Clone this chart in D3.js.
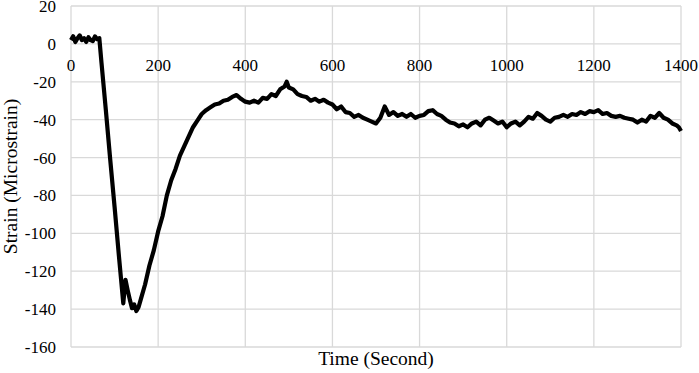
<!DOCTYPE html>
<html>
<head>
<meta charset="utf-8">
<script src="https://cdn.jsdelivr.net/npm/d3@7"></script>
<style>
  body { margin: 0; background: #fff; }
  text { font-family: "Liberation Serif", "Times New Roman", serif; fill: #000; }
</style>
</head>
<body>
<svg id="chart" width="699" height="373"></svg>
<script>
// strain record (time in s, strain in microstrain)
var timeSec = [0, 5, 10, 15, 20, 25, 30, 35, 40, 45, 50, 55, 60, 65,
  70, 80, 90, 100, 110, 120, 125, 130, 135, 140, 145, 150, 155, 160,
  170, 180, 190, 200, 210, 220, 230, 240, 250, 260, 270, 280, 290, 300,
  310, 320, 330, 340, 350, 360, 370, 380, 390, 400, 410, 420, 430, 440,
  450, 460, 470, 480, 490, 495, 500, 510, 520, 530, 540, 550, 560, 570,
  580, 590, 600, 610, 620, 630, 640, 650, 660, 670, 680, 690, 700, 710,
  720, 730, 740, 750, 760, 770, 780, 790, 800, 810, 820, 830, 840, 850,
  860, 870, 880, 890, 900, 910, 920, 930, 940, 950, 960, 970, 980, 990,
  1000, 1010, 1020, 1030, 1040, 1050, 1060, 1070, 1080, 1090, 1100, 1110,
  1120, 1130, 1140, 1150, 1160, 1170, 1180, 1190, 1200, 1210, 1220, 1230,
  1240, 1250, 1260, 1270, 1280, 1290, 1300, 1310, 1320, 1330, 1340, 1350,
  1360, 1370, 1380, 1390, 1395, 1400];
var strainMicro = [2, 4, 1, 3, 4.5, 2, 3, 1, 3.5, 2, 1.5, 4, 2.5, 3,
  -10, -35, -61, -86, -112, -137, -124.5, -130, -135, -139.5, -137.5, -141, -139, -135,
  -127, -117, -109, -99, -91, -80, -72, -66, -59, -54, -49, -44, -40.5, -37,
  -35, -33.5, -32, -31.5, -30, -29.5, -28, -27, -29, -30.5, -31, -30, -31, -28.5,
  -29, -26.5, -27.5, -24, -22.5, -20, -23, -24, -26.5, -27.5, -28, -30, -29, -30.5,
  -29.5, -31, -32, -34.5, -33, -36, -36.5, -38.5, -37.5, -39, -40, -41, -42, -39,
  -33, -37.5, -36, -38, -37, -38.5, -37, -39, -38, -37.5, -35.5, -35, -37, -38,
  -40, -41.5, -42, -43.5, -42.5, -44, -42, -41, -43, -40, -39, -40.5, -42, -41,
  -44, -42, -41, -43, -41, -38.5, -39.5, -36.5, -38, -40, -41, -39,
  -38.5, -37.5, -38.5, -37, -37.5, -36, -37, -35.5, -36, -35, -37, -36.5,
  -38, -38.5, -38, -39, -39.5, -40, -41.5, -40, -41, -38, -39, -36.5,
  -39, -40, -42, -43, -44, -46];

var xTicks = [0, 200, 400, 600, 800, 1000, 1200, 1400];
var yTicks = [-160, -140, -120, -100, -80, -60, -40, -20, 0, 20];

var svg = d3.select("#chart"),
  margin = { top: 6, right: 18, bottom: 26, left: 71 },
  width = +svg.attr("width") - margin.left - margin.right,
  height = +svg.attr("height") - margin.top - margin.bottom;

var x = d3.scaleLinear().domain([0, 1400]).range([margin.left, margin.left + width]);
var y = d3.scaleLinear().domain([-160, 20]).range([margin.top + height, margin.top]);

var data = timeSec.map((t, i) => ({ t: t, v: strainMicro[i] }));

// gridlines
svg.append("g")
  .selectAll("line.h")
  .data(yTicks)
  .join("line")
  .attr("x1", x(0)).attr("x2", x(1400))
  .attr("y1", d => y(d)).attr("y2", d => y(d))
  .style("stroke", "#d9d9d9").style("stroke-width", 1.3);

svg.append("g")
  .selectAll("line.v")
  .data(xTicks)
  .join("line")
  .attr("x1", d => x(d)).attr("x2", d => x(d))
  .attr("y1", y(20)).attr("y2", y(-160))
  .style("stroke", "#d9d9d9").style("stroke-width", 1.3);

// y tick labels
svg.append("g")
  .selectAll("text")
  .data(yTicks)
  .join("text")
  .attr("x", margin.left - 15)
  .attr("y", d => y(d) + 6)
  .attr("text-anchor", "end")
  .style("font-size", "17px")
  .text(d => d);

// x tick labels sit just under the zero line
svg.append("g")
  .selectAll("text")
  .data(xTicks)
  .join("text")
  .attr("x", d => x(d))
  .attr("y", y(0) + 27)
  .attr("text-anchor", "middle")
  .style("font-size", "17px")
  .text(d => d);

var line = d3.line()
  .x(d => x(d.t))
  .y(d => y(d.v));

svg.append("path")
  .datum(data)
  .attr("d", line)
  .style("fill", "none")
  .style("stroke", "#000")
  .style("stroke-width", 4.2)
  .style("stroke-linejoin", "round");

// axis titles
svg.append("text")
  .attr("x", x(700))
  .attr("y", 365)
  .attr("text-anchor", "middle")
  .style("font-size", "19.5px")
  .text("Time (Second)");

svg.append("text")
  .attr("transform", "translate(17," + y(-70) + ") rotate(-90)")
  .attr("text-anchor", "middle")
  .style("font-size", "19.5px")
  .text("Strain (Microstrain)");
</script>
</body>
</html>
